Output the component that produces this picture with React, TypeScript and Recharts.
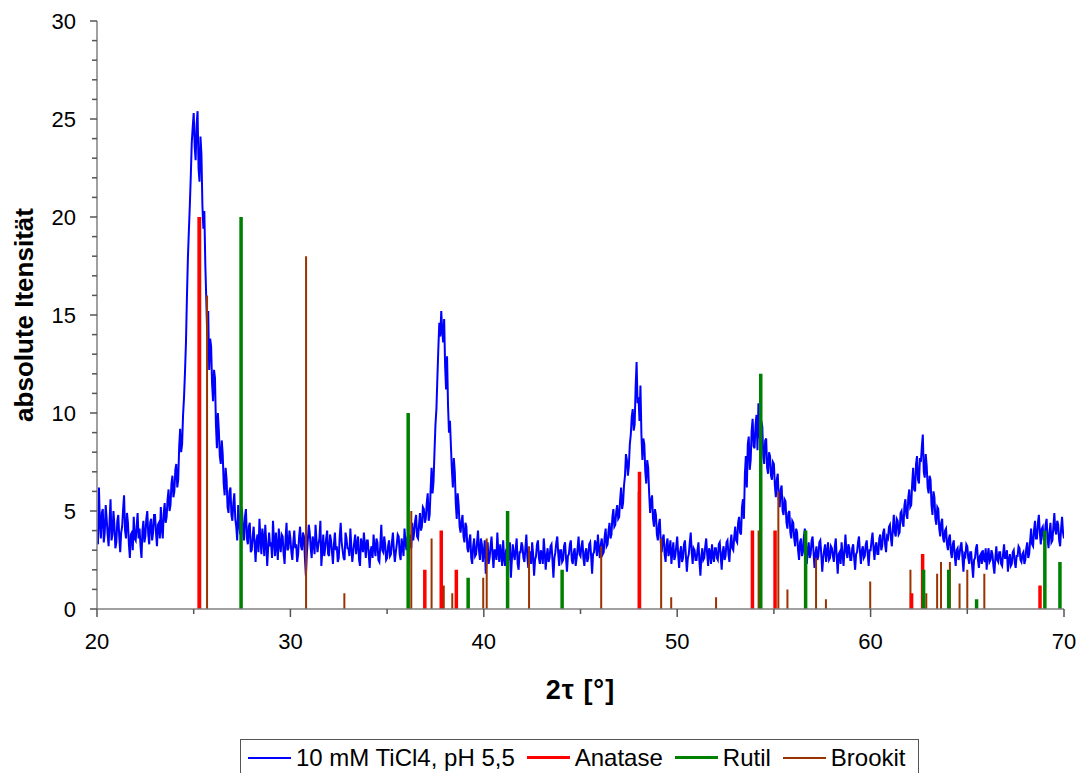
import React from 'react'
import { ComposedChart, Line, XAxis, YAxis, Legend, Label } from 'recharts'

// measured pattern, 2theta from 20.00 to 70.00 in 0.05 steps (one row per degree)
const startAngle = 20
const stepAngle = 0.05
const intensity = [
  4.1, 3.3, 6.2, 4.4, 3.6, 4.9, 5.1, 3.4, 3.9, 5.3, 4.6, 3.8, 3.2, 4.5, 5.6, 3.5, 3.8, 5.0, 4.3, 3.1,
  3.4, 4.5, 4.8, 3.7, 2.9, 3.9, 4.2, 5.1, 5.8, 4.0, 3.6, 4.9, 4.4, 3.3, 2.6, 3.8, 3.9, 3.0, 4.7, 3.6,
  3.5, 4.2, 4.9, 3.6, 4.1, 3.2, 2.6, 4.0, 4.5, 3.4, 3.7, 4.6, 5.0, 3.8, 3.3, 4.4, 4.6, 3.5, 3.9, 4.8,
  4.8, 3.9, 3.2, 4.3, 4.4, 3.6, 5.2, 4.1, 3.6, 4.9, 5.4, 4.4, 4.7, 5.6, 6.1, 5.0, 5.3, 6.4, 6.8, 5.7,
  6.0, 7.1, 7.4, 6.2, 6.6, 8.3, 9.2, 8.0, 8.4, 9.9, 10.8, 12.1, 13.6, 15.9, 17.9, 19.3, 20.6, 22.1, 23.8, 24.6,
  25.3, 23.6, 22.9, 24.7, 25.4, 22.5, 21.8, 24.1, 23.2, 20.6, 19.4, 20.3, 17.6, 15.8, 13.9, 15.2, 12.2, 13.8, 13.4, 11.5,
  10.6, 12.2, 11.8, 9.4, 8.2, 10.0, 9.1, 7.8, 7.4, 8.6, 7.9, 6.4, 5.8, 7.2, 6.6, 5.2, 4.9, 6.0, 6.2, 4.8,
  4.5, 5.4, 5.9, 4.6, 4.2, 3.5, 5.3, 4.4, 3.8, 5.2, 5.0, 3.9, 3.5, 4.7, 5.1, 3.6, 3.3, 4.2, 4.4, 2.9,
  3.0, 3.7, 4.2, 3.3, 2.4, 3.5, 3.8, 2.9, 4.6, 3.6, 2.8, 4.1, 3.6, 2.7, 4.3, 3.4, 2.2, 3.1, 3.9, 3.2,
  3.4, 2.6, 4.5, 3.5, 2.7, 3.9, 3.2, 2.5, 4.1, 3.3, 2.9, 3.8, 3.7, 2.8, 2.3, 3.6, 4.4, 3.0, 3.1, 4.0,
  3.6, 2.9, 2.5, 3.4, 4.0, 3.1, 3.3, 2.4, 2.8, 3.7, 4.2, 3.2, 3.0, 3.9, 3.7, 2.6, 1.7, 2.8, 3.5, 4.3,
  3.9, 3.1, 2.6, 3.7, 3.4, 2.8, 4.3, 3.5, 2.9, 3.3, 3.6, 4.5, 2.2, 3.0, 3.8, 2.7, 3.1, 3.6, 4.0, 2.8,
  2.7, 3.8, 3.5, 2.9, 2.3, 3.3, 3.9, 3.0, 3.2, 2.4, 2.6, 3.7, 4.4, 3.4, 3.0, 2.6, 2.5, 3.9, 3.6, 3.1,
  3.1, 2.7, 4.1, 3.2, 2.4, 2.9, 3.4, 3.8, 2.8, 3.3, 3.7, 2.5, 2.2, 3.6, 3.3, 2.9, 3.9, 3.2, 2.6, 3.5,
  3.5, 2.8, 2.1, 3.0, 3.2, 2.6, 3.8, 3.1, 2.7, 3.6, 3.4, 2.5, 2.4, 3.3, 4.3, 3.0, 2.9, 3.7, 3.3, 2.5,
  2.6, 3.2, 3.5, 2.7, 2.8, 3.4, 3.9, 3.0, 2.4, 2.9, 3.3, 3.8, 3.7, 2.8, 2.5, 3.6, 3.2, 2.7, 4.1, 3.4,
  3.0, 3.7, 2.2, 3.3, 3.8, 3.1, 4.4, 3.5, 3.9, 4.5, 4.8, 3.7, 3.6, 4.3, 4.9, 4.0, 4.2, 5.2, 5.1, 4.4,
  4.6, 5.4, 5.9, 4.5, 4.8, 6.1, 7.2, 5.9, 6.5, 8.0, 9.4, 10.2, 11.8, 13.3, 14.6, 13.9, 15.2, 14.2, 13.6, 14.8,
  12.4, 11.2, 12.9, 10.4, 9.0, 9.6, 8.3, 7.1, 6.2, 7.7, 7.0, 5.4, 4.6, 5.9, 5.3, 4.2, 3.9, 4.5, 4.8, 3.7,
  3.4, 4.4, 4.2, 3.1, 2.9, 3.5, 3.8, 2.6, 2.3, 3.2, 3.6, 2.7, 2.8, 3.4, 4.0, 3.0, 2.5, 3.6, 3.3, 2.4,
  2.9, 3.5, 1.8, 2.7, 3.4, 2.3, 2.6, 3.2, 3.7, 2.8, 2.1, 3.0, 3.0, 2.5, 3.9, 2.9, 2.4, 3.3, 2.8, 2.2,
  3.5, 2.6, 2.2, 3.0, 3.1, 2.4, 2.7, 3.4, 1.6, 2.5, 3.3, 2.8, 2.5, 3.1, 3.6, 2.3, 2.0, 2.9, 2.9, 3.4,
  3.2, 2.6, 2.4, 3.1, 3.8, 2.7, 2.1, 2.9, 2.9, 2.3, 3.4, 2.8, 1.7, 2.5, 2.7, 3.3, 3.5, 2.6, 2.3, 3.0,
  2.8, 2.3, 3.6, 2.9, 2.0, 2.7, 3.1, 2.4, 2.6, 3.2, 3.3, 2.5, 1.6, 2.6, 2.9, 3.4, 3.7, 2.8, 2.2, 3.0,
  3.0, 2.4, 2.5, 3.2, 3.4, 2.6, 1.9, 2.7, 2.8, 3.3, 3.5, 2.5, 2.3, 2.9, 3.1, 2.2, 2.6, 3.1, 3.7, 2.8,
  2.7, 3.2, 3.5, 2.6, 2.2, 2.9, 3.1, 2.4, 2.6, 3.3, 3.4, 2.7, 1.8, 2.8, 2.9, 3.5, 3.3, 2.7, 3.8, 3.1,
  2.6, 3.3, 3.6, 2.8, 2.9, 3.7, 4.1, 3.2, 3.3, 4.0, 4.4, 3.6, 3.8, 4.7, 5.1, 4.2, 4.3, 5.0, 5.3, 4.6,
  4.7, 5.6, 6.2, 5.1, 5.4, 6.3, 6.8, 7.9, 7.6, 6.8, 7.3, 8.4, 8.9, 9.8, 10.2, 9.1, 9.4, 11.3, 12.6, 10.5,
  10.8, 9.6, 11.4, 8.9, 7.6, 8.7, 8.4, 7.0, 6.4, 7.6, 7.2, 5.9, 4.9, 5.5, 5.8, 4.6, 4.2, 5.1, 4.8, 3.8,
  3.5, 4.3, 4.6, 3.4, 2.9, 3.6, 3.8, 2.8, 2.4, 3.3, 3.6, 2.7, 3.0, 3.5, 2.3, 2.9, 3.4, 2.5, 2.7, 3.2,
  3.7, 2.8, 2.1, 2.9, 3.2, 2.4, 2.6, 3.3, 3.5, 2.7, 1.9, 2.6, 2.8, 3.4, 3.9, 2.9, 2.3, 3.1, 3.0, 2.5,
  2.5, 3.0, 3.4, 2.4, 1.7, 2.7, 3.1, 2.5, 2.6, 3.2, 3.6, 2.8, 2.2, 3.1, 2.9, 2.3, 3.3, 2.7, 2.4, 3.1,
  3.1, 2.6, 2.5, 3.3, 3.4, 2.7, 2.0, 2.9, 3.2, 2.5, 2.7, 3.4, 3.5, 2.8, 2.4, 3.3, 3.8, 3.1, 3.0, 3.7,
  4.2, 3.5, 3.4, 4.4, 4.7, 3.9, 3.8, 5.2, 5.6, 4.6, 6.9, 7.8, 6.2, 8.4, 8.8, 7.1, 7.6, 9.1, 9.7, 8.3,
  8.2, 9.4, 9.9, 8.1, 10.5, 9.0, 8.4, 9.6, 9.3, 7.8, 7.4, 8.6, 8.7, 7.2, 6.9, 8.0, 7.8, 6.8, 6.6, 7.5,
  7.4, 6.3, 5.7, 6.6, 6.9, 5.6, 5.2, 6.1, 6.3, 5.0, 4.8, 5.6, 5.5, 4.4, 4.1, 4.9, 5.0, 3.9, 3.6, 4.5,
  4.4, 3.6, 3.2, 4.1, 3.9, 3.0, 2.5, 3.4, 3.6, 2.7, 2.9, 3.7, 4.1, 3.1, 2.3, 3.0, 3.4, 2.6, 2.8, 3.5,
  3.7, 2.9, 2.1, 2.8, 3.2, 2.5, 2.7, 3.4, 3.5, 2.8, 1.9, 2.6, 3.0, 3.3, 2.4, 2.9, 3.4, 2.5, 2.6, 3.2,
  3.1, 2.7, 2.4, 3.2, 3.6, 2.6, 1.8, 2.8, 2.9, 2.3, 3.4, 2.8, 2.2, 3.0, 3.8, 2.9, 2.6, 3.3, 3.1, 2.5,
  2.5, 3.1, 3.3, 2.6, 2.0, 2.8, 2.9, 3.4, 3.7, 2.9, 2.3, 3.0, 3.2, 2.6, 2.7, 3.3, 3.5, 2.8, 2.2, 3.0,
  3.0, 3.5, 3.9, 3.1, 2.5, 3.2, 3.4, 2.8, 2.8, 3.6, 3.8, 3.0, 3.2, 3.9, 4.1, 3.3, 2.9, 3.7, 3.6, 4.2,
  4.3, 3.6, 3.2, 4.1, 4.8, 3.9, 3.7, 4.6, 4.5, 3.8, 3.9, 4.9, 5.0, 4.4, 4.2, 5.3, 5.6, 4.8, 4.6, 5.7,
  6.1, 5.2, 5.3, 6.4, 7.2, 6.1, 6.0, 7.4, 7.8, 6.6, 6.4, 7.7, 7.5, 8.3, 8.9, 7.0, 6.7, 7.9, 7.3, 6.2,
  5.9, 6.8, 6.6, 5.3, 4.8, 6.0, 5.7, 4.6, 4.3, 5.2, 5.1, 4.1, 3.7, 4.4, 4.6, 3.6, 3.4, 4.0, 4.1, 3.3,
  3.0, 3.6, 3.8, 2.9, 2.6, 3.3, 3.5, 2.7, 2.2, 3.0, 3.1, 2.5, 2.8, 3.2, 3.4, 2.6, 1.9, 2.8, 2.7, 3.3,
  3.2, 2.6, 2.3, 2.9, 2.9, 2.2, 1.6, 2.5, 2.6, 3.1, 3.3, 2.5, 2.1, 2.7, 2.8, 2.3, 3.0, 2.6, 2.4, 3.1,
  2.0, 2.7, 3.1, 2.4, 2.5, 3.0, 2.8, 2.2, 1.8, 2.6, 3.2, 2.5, 2.4, 2.9, 2.9, 2.3, 2.2, 2.8, 3.3, 2.6,
  2.6, 3.0, 1.9, 2.5, 2.8, 2.2, 2.3, 2.9, 3.0, 2.4, 2.1, 2.7, 2.7, 3.2, 3.1, 2.5, 2.4, 2.8, 2.9, 2.3,
  2.5, 3.1, 3.4, 2.6, 2.8, 3.5, 4.1, 3.3, 3.2, 4.0, 4.5, 3.6, 3.6, 4.4, 4.8, 3.9, 3.3, 4.1, 4.2, 3.5,
  3.7, 4.3, 4.6, 3.6, 3.1, 3.9, 4.4, 3.4, 3.5, 4.2, 4.9, 4.0, 3.8, 4.5, 4.3, 3.5, 3.2, 4.1, 4.7, 3.9,
  3.6,
]

// reference patterns (position, relative intensity scaled to 20)
const anataseAngle = [25.28, 36.95, 37.8, 38.58, 48.05, 53.89, 55.06, 62.12, 62.69, 68.76]
const anataseInt = [20, 2, 4, 2, 7, 4, 4, 0.8, 2.8, 1.2]

const rutilAngle = [27.45, 36.09, 39.19, 41.23, 44.05, 54.32, 56.64, 62.74, 64.04, 65.48, 69.01, 69.79]
const rutilInt = [20, 10, 1.6, 5, 2, 12, 4, 2, 2, 0.5, 4, 2.4]

const brookitAngle = [
  25.34, 25.69, 30.81, 32.79, 36.25, 37.3, 37.93, 38.37, 38.57, 39.2, 39.97, 40.15,
  42.34, 46.07, 48.01, 49.17, 49.69, 52.01, 54.21, 55.23, 55.7, 57.18, 57.69, 59.98,
  62.06, 62.88, 63.44, 63.64, 64.1, 64.6, 65.0, 65.88,
]
const brookitInt = [
  20, 16, 18, 0.8, 5, 3.6, 1.2, 0.8, 1.0, 1.0, 1.6, 3.6,
  3.2, 3.2, 6, 3.6, 0.6, 0.6, 4, 6, 1.0, 2.6, 0.5, 1.4,
  2.0, 0.8, 1.8, 2.4, 2.4, 1.3, 2.0, 1.8,
]

const xTicks = [20, 25, 30, 35, 40, 45, 50, 55, 60, 65, 70]
const yTicks = Array.from({ length: 31 }, (_, i) => i)

const FONT = '"Liberation Sans", Arial, sans-serif'

const patternData = intensity.map((v, i) => ({ x: +(startAngle + i * stepAngle).toFixed(2), y: v }))

function sticks(angle: number[], height: number[]) {
  return angle.flatMap((a, i) => [
    { x: a, y: 0 },
    { x: a, y: height[i] },
    { x: a, y: null },
  ])
}

const XTick = (props: any) => {
  const { x, y, payload } = props
  const major = payload.value % 10 === 0
  return (
    <g>
      <line x1={x} x2={x} y1={y} y2={y + (major ? 8 : 5)} stroke="#555" strokeWidth={1.5} />
      {major && (
        <text x={x} y={y + 40} textAnchor="middle" fontSize={22} fontFamily={FONT} fill="#000">
          {payload.value}
        </text>
      )}
    </g>
  )
}

const YTick = (props: any) => {
  const { x, y, payload } = props
  const major = payload.value % 5 === 0
  return (
    <g>
      <line x1={x - (major ? 7 : 5)} x2={x} y1={y} y2={y} stroke="#555" strokeWidth={1.5} />
      {major && (
        <text x={x - 21} y={y + 8} textAnchor="end" fontSize={22} fontFamily={FONT} fill="#000">
          {payload.value}
        </text>
      )}
    </g>
  )
}

const legendItems = [
  { name: '10 mM TiCl4, pH 5,5', color: '#0000FF', width: 2 },
  { name: 'Anatase', color: '#FF0000', width: 3.5 },
  { name: 'Rutil', color: '#008000', width: 3.5 },
  { name: 'Brookit', color: '#993300', width: 2 },
]

const renderLegend = () => (
  <div
    style={{
      border: '1px solid #555',
      height: 45,
      boxSizing: 'border-box',
      display: 'flex',
      alignItems: 'center',
      paddingLeft: 7,
      paddingBottom: 8,
      fontFamily: FONT,
      fontSize: 24,
      color: '#000',
      background: '#fff',
      whiteSpace: 'nowrap',
    }}
  >
    {legendItems.map((it) => (
      <div key={it.name} style={{ display: 'flex', alignItems: 'center', marginRight: 12 }}>
        <div style={{ width: 43, height: it.width, background: it.color, marginRight: 5 }} />
        <span>{it.name}</span>
      </div>
    ))}
  </div>
)

export default function App() {
  return (
    <div style={{ position: 'absolute', left: 0, top: 0, width: 1083, height: 773, background: '#fff', overflow: 'hidden' }}>
      <ComposedChart width={1083} height={773} margin={{ top: 21, right: 19, bottom: 64, left: 0 }}>
        <XAxis
          dataKey="x"
          type="number"
          domain={[20, 70]}
          ticks={xTicks}
          interval={0}
          allowDataOverflow
          height={100}
          tickSize={0}
          tickMargin={0}
          tickLine={false}
          tick={XTick}
          axisLine={{ stroke: '#808080', strokeWidth: 1.5 }}
        >
          <Label
            value="2τ [°]"
            position="insideBottom"
            offset={10}
            style={{ fontWeight: 'bold', fontSize: 27, fill: '#000', fontFamily: FONT, letterSpacing: 1 }}
          />
        </XAxis>
        <YAxis
          type="number"
          domain={[0, 30]}
          ticks={yTicks}
          interval={0}
          allowDataOverflow
          width={97}
          tickSize={0}
          tickMargin={0}
          tickLine={false}
          tick={YTick}
          axisLine={{ stroke: '#808080', strokeWidth: 1.5 }}
        >
          <Label
            value="absolute Itensität"
            angle={-90}
            position="insideLeft"
            offset={24}
            style={{ fontWeight: 'bold', fontSize: 26, fill: '#000', fontFamily: FONT, textAnchor: 'middle' }}
          />
        </YAxis>
        <Legend
          layout="horizontal"
          verticalAlign="middle"
          content={renderLegend}
          wrapperStyle={{ left: 240, top: 739, width: 679, height: 45 }}
        />
        <Line
          data={patternData}
          dataKey="y"
          name="10 mM TiCl4, pH 5,5"
          stroke="#0000FF"
          strokeWidth={2}
          dot={false}
          activeDot={false}
          isAnimationActive={false}
        />
        <Line
          data={sticks(brookitAngle, brookitInt)}
          dataKey="y"
          name="Brookit"
          stroke="#993300"
          strokeWidth={2}
          dot={false}
          activeDot={false}
          isAnimationActive={false}
        />
        <Line
          data={sticks(anataseAngle, anataseInt)}
          dataKey="y"
          name="Anatase"
          stroke="#FF0000"
          strokeWidth={3.5}
          dot={false}
          activeDot={false}
          isAnimationActive={false}
        />
        <Line
          data={sticks(rutilAngle, rutilInt)}
          dataKey="y"
          name="Rutil"
          stroke="#008000"
          strokeWidth={3.5}
          dot={false}
          activeDot={false}
          isAnimationActive={false}
        />
      </ComposedChart>
    </div>
  )
}
